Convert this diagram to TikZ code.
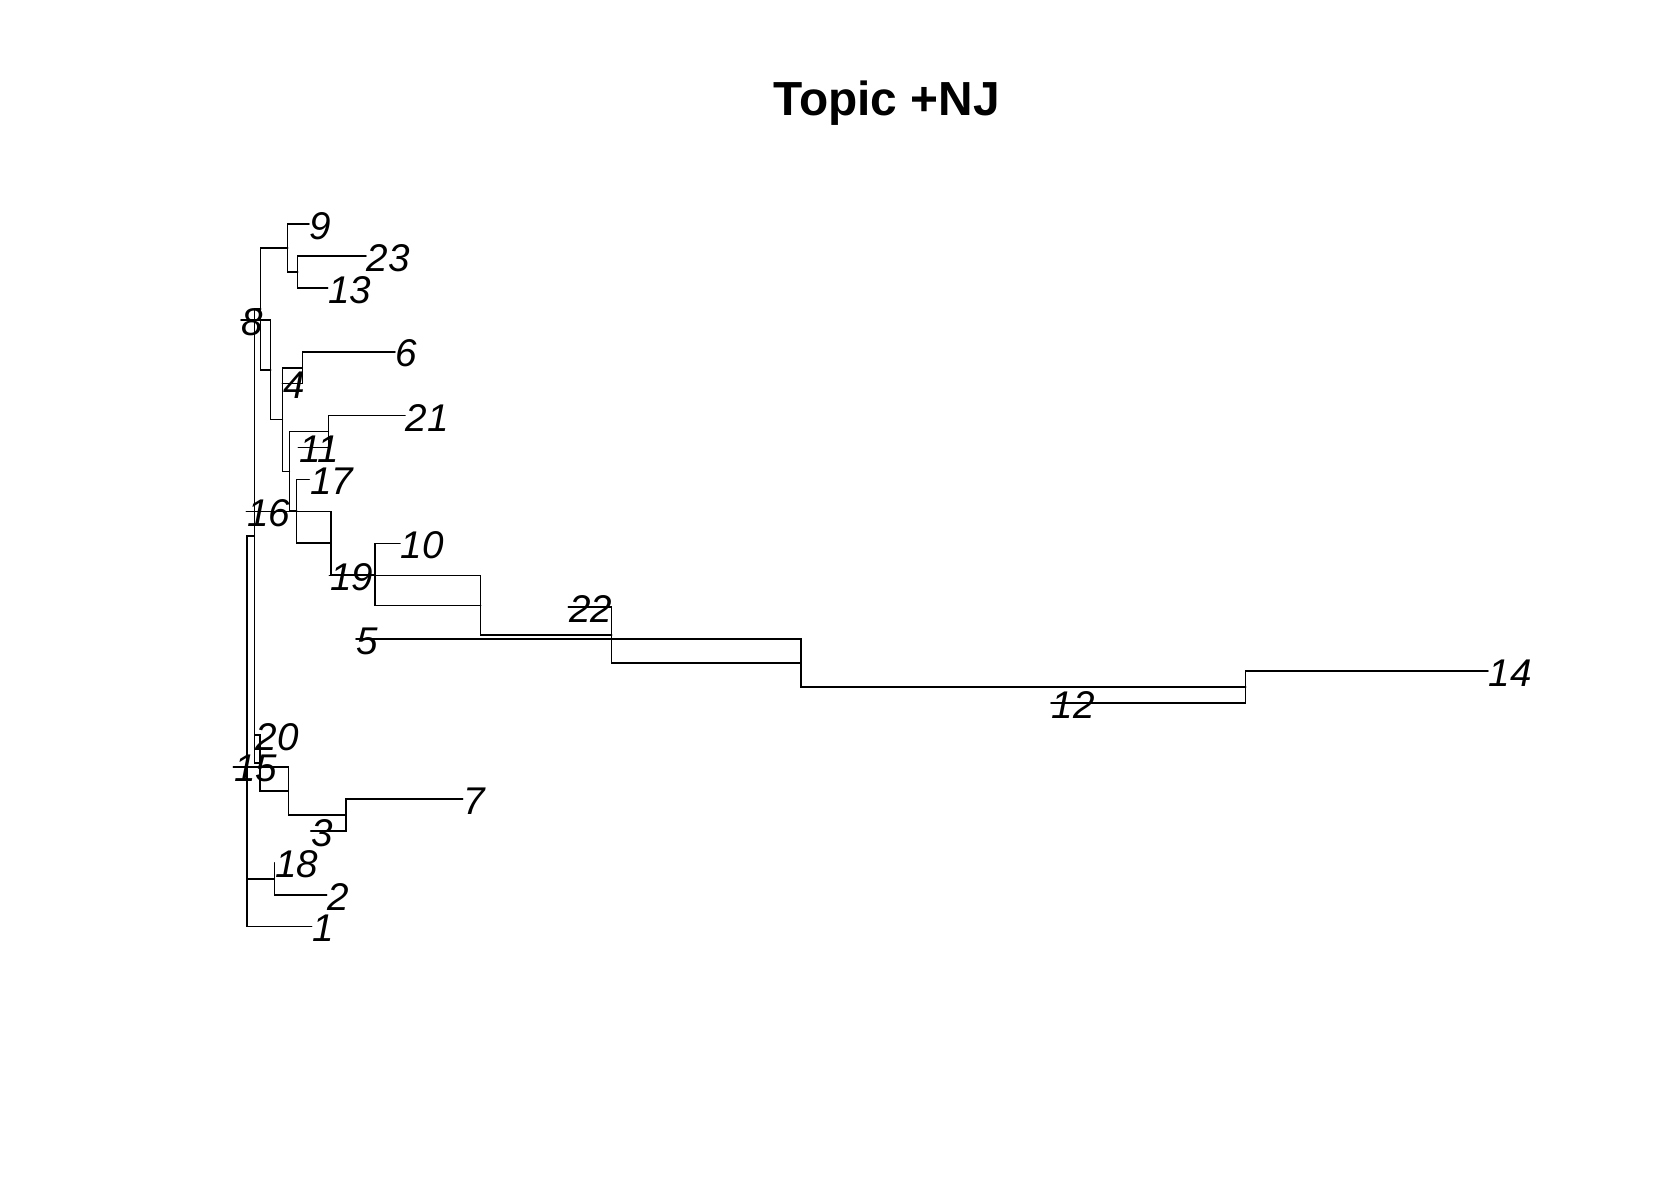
\documentclass[tikz,border=0pt]{standalone}
\usepackage{fontspec}
\setmainfont{Liberation Sans}
\usetikzlibrary{positioning}
% row of a tip (pixel units, 23 tips evenly spaced)
\newcommand{\ty}[1]{224+31.94*#1}

\begin{document}
\begin{tikzpicture}[x=0.3158pt, y=-0.3158pt, line width=0.5pt, line cap=round,
  tip/.style={anchor=west, inner sep=0pt, yshift=-0.6pt, font=\fontsize{12.2}{14}\selectfont\itshape}]
  \useasboundingbox (0,0) rectangle (1680,1200);

  % Title
  \node[font=\fontsize{15.1}{18}\selectfont\bfseries, anchor=base] (title) at (886.7,115) {Topic +NJ};

  % Tips
  \node[tip] (t9)  at (309,   \ty{0})  {9};
  \node[tip] (t23) at (366,   \ty{1})  {23};
  \node[tip] (t13) at (327.7, \ty{2})  {13};
  \node[tip] (t8)  at (241,   \ty{3})  {8};
  \node[tip] (t6)  at (395,   \ty{4})  {6};
  \node[tip] (t4)  at (282.3, \ty{5})  {4};
  \node[tip] (t21) at (405,   \ty{6})  {21};
  \node[tip] (t11) at (298.3, \ty{7})  {11};
  \node[tip] (t17) at (309.3, \ty{8})  {17};
  \node[tip] (t16) at (246.3, \ty{9})  {16};
  \node[tip] (t10) at (400,   \ty{10}) {10};
  \node[tip] (t19) at (329.3, \ty{11}) {19};
  \node[tip] (t22) at (568.3, \ty{12}) {22};
  \node[tip] (t5)  at (356,   \ty{13}) {5};
  \node[tip] (t14) at (1488,  \ty{14}) {14};
  \node[tip] (t12) at (1051,  \ty{15}) {12};
  \node[tip] (t20) at (255,   \ty{16}) {20};
  \node[tip] (t15) at (233.3, \ty{17}) {15};
  \node[tip] (t7)  at (462.7, \ty{18}) {7};
  \node[tip] (t3)  at (310.7, \ty{19}) {3};
  \node[tip] (t18) at (274.3, \ty{20}) {18};
  \node[tip] (t2)  at (326.7, \ty{21}) {2};
  \node[tip] (t1)  at (311.7, \ty{22}) {1};

  % Internal nodes
  \coordinate (root) at (247,    \ty{15.88});
  \coordinate (n1)   at (254.3,  \ty{9.766});
  \coordinate (n2)   at (260.7,  \ty{2.656});
  \coordinate (n3)   at (287.7,  \ty{0.75});
  \coordinate (n4)   at (297.7,  \ty{1.5});
  \coordinate (n5)   at (270.7,  \ty{4.562});
  \coordinate (n6)   at (282.3,  \ty{6.123});
  \coordinate (n7)   at (302.3,  \ty{4.5});
  \coordinate (n8)   at (289.3,  \ty{7.746});
  \coordinate (n9)   at (328.3,  \ty{6.5});
  \coordinate (n10)  at (296.7,  \ty{8.992});
  \coordinate (n11)  at (331,    \ty{9.984});
  \coordinate (n12)  at (375,    \ty{10.969});
  \coordinate (n13)  at (480.7,  \ty{11.938});
  \coordinate (n14)  at (611.7,  \ty{12.875});
  \coordinate (n15)  at (801,    \ty{13.75});
  \coordinate (n16)  at (1245.7, \ty{14.5});
  \coordinate (n17)  at (260,    \ty{16.875});
  \coordinate (n18)  at (288.3,  \ty{17.75});
  \coordinate (n19)  at (346,    \ty{18.5});
  \coordinate (n20)  at (274.3,  \ty{20.5});

  % Edges (tip anchors shifted back onto the branch rows)
  \begin{scope}[every path/.style={}]
  \draw (root) |- (n1) (root) |- (n20) (root) |- ([yshift=0.6pt]t1.west);
  \draw (n1) |- (n2) (n1) |- (n17);
  \draw (n2) |- (n3) (n2) |- (n5);
  \draw (n3) |- ([yshift=0.6pt]t9.west) (n3) |- (n4);
  \draw (n4) |- ([yshift=0.6pt]t23.west) (n4) |- ([yshift=0.6pt]t13.west);
  \draw (n5) |- ([yshift=0.6pt]t8.west) (n5) |- (n6);
  \draw (n6) |- (n7) (n6) |- (n8);
  \draw (n7) |- ([yshift=0.6pt]t6.west) (n7) |- ([yshift=0.6pt]t4.west);
  \draw (n8) |- (n9) (n8) |- (n10);
  \draw (n9) |- ([yshift=0.6pt]t21.west) (n9) |- ([yshift=0.6pt]t11.west);
  \draw (n10) |- ([yshift=0.6pt]t17.west) (n10) |- (n11);
  \draw (n11) |- ([yshift=0.6pt]t16.west) (n11) |- (n12);
  \draw (n12) |- ([yshift=0.6pt]t10.west) (n12) |- (n13);
  \draw (n13) |- ([yshift=0.6pt]t19.west) (n13) |- (n14);
  \draw (n14) |- ([yshift=0.6pt]t22.west) (n14) |- (n15);
  \draw (n15) |- ([yshift=0.6pt]t5.west) (n15) |- (n16);
  \draw (n16) |- ([yshift=0.6pt]t14.west) (n16) |- ([yshift=0.6pt]t12.west);
  \draw (n17) |- ([yshift=0.6pt]t20.west) (n17) |- (n18);
  \draw (n18) |- ([yshift=0.6pt]t15.west) (n18) |- (n19);
  \draw (n19) |- ([yshift=0.6pt]t7.west) (n19) |- ([yshift=0.6pt]t3.west);
  \draw (n20) |- ([yshift=0.6pt]t18.west) (n20) |- ([yshift=0.6pt]t2.west);
  \end{scope}

\end{tikzpicture}
\end{document}
